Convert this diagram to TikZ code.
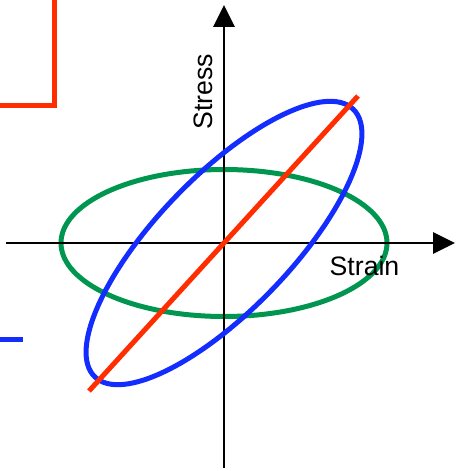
\documentclass[tikz,border=0pt]{standalone}
\usepackage{fontspec}
\setmainfont{Liberation Sans}
\usetikzlibrary{arrows.meta}

\definecolor{loopred}{RGB}{255,45,0}
\definecolor{loopblue}{RGB}{20,45,255}
\definecolor{loopgreen}{RGB}{0,150,80}

\begin{document}
\begin{tikzpicture}[x=0.75pt, y=0.75pt, font=\fontsize{20}{24}\selectfont]
    \useasboundingbox (-224,-228) rectangle (233,243);

    % axis end points
    \coordinate (O) at (0,0);
    \coordinate (xl) at (-218,0);
    \coordinate (xr) at (231,0);
    \coordinate (yb) at (0,-225);
    \coordinate (yt) at (0,238);

    % partial lines at the left edge
    \draw[loopred, line width=3.75pt, line join=miter] (-224,137.2) -- (-169.2,137.2) -- (-169.2,243);
    \draw[loopblue, line width=3.75pt] (-224,-96.8) -- (-201.3,-96.8);

    % elastic-viscous ellipse
    \draw[loopgreen, line width=3.75pt] (O) ellipse [x radius=163, y radius=73.5];

    % axes
    \draw[line width=1.5pt, -{Triangle[length=16.5pt, width=16pt]}] (xl) -- (xr);
    \draw[line width=1.5pt, -{Triangle[length=16.5pt, width=16pt]}] (yb) -- (yt);
    \node[anchor=base] (strain) at (140.5,-32) {Strain};
    \node[rotate=90, anchor=base] (stress) at (-11,151.5) {Stress};

    % tilted ellipse
    \draw[loopblue, line width=3.75pt, rotate=46] (O) ellipse [x radius=186, y radius=67];

    % linear response
    \coordinate (rl) at (-135,-148);
    \coordinate (ru) at (134,147);
    \draw[loopred, line width=3.75pt] (rl) -- (ru);
\end{tikzpicture}
\end{document}
